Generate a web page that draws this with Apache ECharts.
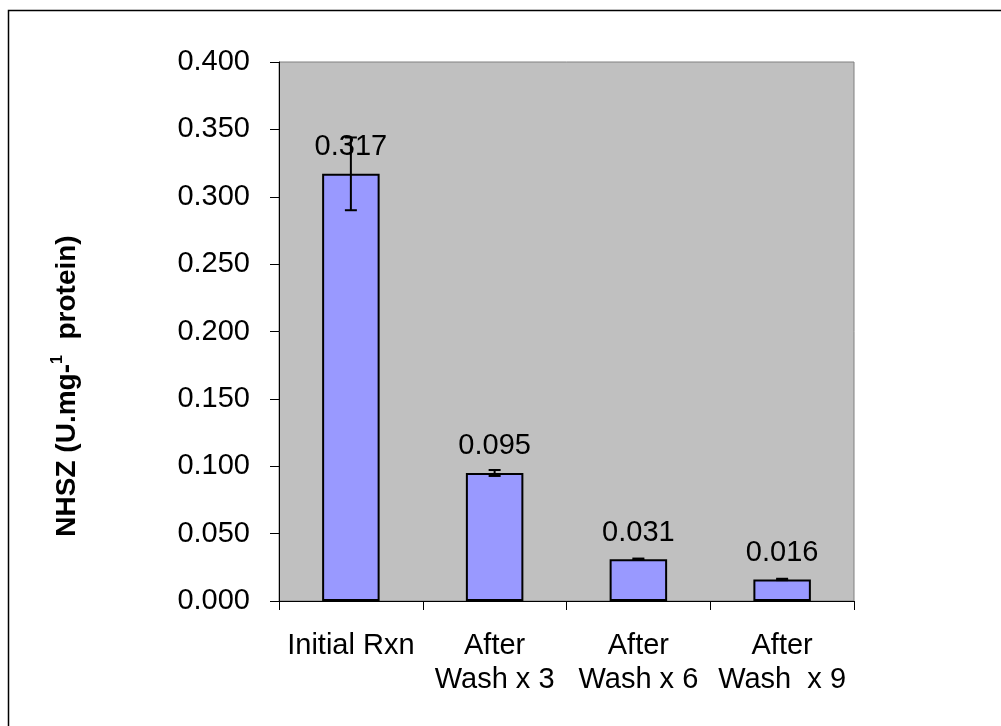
<!DOCTYPE html>
<html>
<head>
<meta charset="utf-8">
<script src="https://cdn.jsdelivr.net/npm/echarts@6/dist/echarts.min.js"></script>
<style>
    html, body { margin: 0; padding: 0; background: #fff; }
    #main { width: 1001px; height: 726px; }
</style>
</head>
<body>
<div id="main"></div>
<script>
    var categories = ["Initial Rxn", "After\nWash x 3", "After\nWash x 6", "After\nWash  x 9"];
    var values = [0.317, 0.095, 0.031, 0.016];
    var errors = [0.027, 0.0022, 0.0005, 0.0005];
    var yMin = 0, yMax = 0.4, yStep = 0.05;

    var font = "'Liberation Sans', Arial, sans-serif";

    // 误差线数据
    var errData = [];
    for (var i = 0; i < values.length; i++) {
        errData.push([i, values[i] - errors[i], values[i] + errors[i]]);
    }

    var myChart = echarts.init(document.getElementById("main"));
    var option = {
        animation: false,
        backgroundColor: '#fff',
        grid: {
            left: 279,
            right: 147,
            top: 62,
            bottom: 125,
            show: true,
            backgroundColor: '#C0C0C0',
            borderColor: '#808080',
            borderWidth: 1
        },
        xAxis: {
            type: 'category',
            data: categories,
            axisLine: { lineStyle: { color: '#000', width: 1 } },
            axisTick: { show: true, length: 9, lineStyle: { color: '#000' } },
            axisLabel: {
                color: '#000',
                fontSize: 29,
                fontFamily: font,
                lineHeight: 34,
                margin: 28,
                interval: 0
            },
            splitLine: { show: false }
        },
        yAxis: {
            type: 'value',
            min: yMin,
            max: yMax,
            interval: yStep,
            axisLine: { show: true, lineStyle: { color: '#000', width: 1 } },
            axisTick: { show: true, length: 9, lineStyle: { color: '#000' } },
            axisLabel: {
                color: '#000',
                fontSize: 29,
                fontFamily: font,
                margin: 29,
                formatter: function (v) { return v.toFixed(3); }
            },
            splitLine: { show: false }
        },
        series: [{
            type: 'bar',
            data: values,
            barWidth: '40%',
            itemStyle: { color: '#9999FF', borderColor: '#000', borderWidth: 2 },
            label: {
                show: true,
                position: 'top',
                distance: 12,
                color: '#000',
                fontSize: 29,
                fontFamily: font,
                formatter: function (p) { return p.value.toFixed(3); }
            }
        }, {
            type: 'custom',
            z: 10,
            data: errData,
            renderItem: function (params, api) {
                var lo = api.coord([api.value(0), api.value(1)]);
                var hi = api.coord([api.value(0), api.value(2)]);
                var hw = 6;
                var st = { stroke: '#000', lineWidth: 2 };
                return {
                    type: 'group',
                    children: [
                        { type: 'line', shape: { x1: hi[0], y1: hi[1], x2: lo[0], y2: lo[1] }, style: st },
                        { type: 'line', shape: { x1: hi[0] - hw, y1: hi[1], x2: hi[0] + hw, y2: hi[1] }, style: st },
                        { type: 'line', shape: { x1: lo[0] - hw, y1: lo[1], x2: lo[0] + hw, y2: lo[1] }, style: st }
                    ]
                };
            }
        }],
        graphic: [{
            type: 'rect',
            shape: { x: 8.5, y: 10.5, width: 1200, height: 1200 },
            style: { fill: null, stroke: '#000', lineWidth: 1.5 },
            silent: true
        }, {
            type: 'text',
            x: 67,
            y: 386,
            rotation: Math.PI / 2,
            style: {
                text: '{a|NHSZ (U.mg-}{s|1}{a|  protein)}',
                align: 'center',
                verticalAlign: 'middle',
                rich: {
                    a: { fontSize: 28, fontWeight: 'bold', fontFamily: font, fill: '#000', lineHeight: 34 },
                    s: { fontSize: 16, fontWeight: 'bold', fontFamily: font, fill: '#000', verticalAlign: 'top', lineHeight: 34, padding: [0, 0, 14, 0] }
                }
            }
        }]
    };
    myChart.setOption(option);
</script>
</body>
</html>
